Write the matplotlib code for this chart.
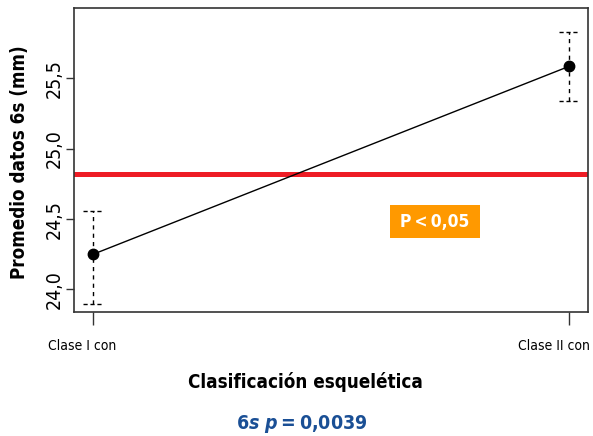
import matplotlib
matplotlib.use("Agg")
import matplotlib.pyplot as plt
import matplotlib.transforms as mtransforms
from matplotlib.patches import Rectangle

plt.rcParams['font.family'] = ['DejaVu Sans']
plt.rcParams['font.stretch'] = 'condensed'

# valores
grupos = ["Clase I con", "Clase II con"]
medias = [24.25, 25.585]
sup = [24.56, 25.83]
inf = [23.90, 25.34]
linea_ref = 24.82
yticks = [24.0, 24.5, 25.0, 25.5]
ytick_labels = ["24,0", "24,5", "25,0", "25,5"]

x = [1, 2]

fig = plt.figure(figsize=(5.93, 4.36), dpi=100)
ax = fig.add_axes([0.1248, 0.2844, 0.8668, 0.6973])

ax.axhline(linea_ref, color='#ee1c25', lw=3.6, zorder=1)
ax.plot(x, medias, color='black', lw=1, marker='o', ms=7.5, zorder=3)

cap = 0.021
ax.vlines(x, inf, sup, colors='black', linestyles=(0, (3, 3)), lw=1)
ax.hlines(sup, [i - cap for i in x], [i + cap for i in x], colors='black', linestyles=(0, (3, 2)), lw=1)
ax.hlines(inf, [i - cap for i in x], [i + cap for i in x], colors='black', linestyles=(0, (3, 2)), lw=1)

ax.set_xlim(0.96, 2.04)
ax.set_ylim(23.84, 26.0)
ax.set_xticks(x)
ax.set_xticklabels(grupos, fontsize=10)
ax.set_yticks(yticks)
ax.set_yticklabels(ytick_labels, fontsize=14, rotation=90, va='center')
ax.tick_params(axis='y', length=6, width=1, color='#333333', pad=1.5)
ax.tick_params(axis='x', length=9.5, width=1, color='#333333', pad=10)
for s in ax.spines.values():
    s.set_linewidth(1.2)
    s.set_color('#333333')

# desplazar etiquetas del eje x hacia la izquierda como en el original
for lbl, dx in zip(ax.get_xticklabels(), [-11, -15]):
    lbl.set_transform(lbl.get_transform() + mtransforms.ScaledTranslation(dx / 100, 0, fig.dpi_scale_trans))

fig.text(20 / 593, 1 - 162 / 436, "Promedio datos 6s (mm)", rotation=90,
         ha='center', va='center', fontsize=13.5, fontweight='bold')

# recuadro naranja P<0,05
fig.patches.append(Rectangle((390 / 593, 1 - 238 / 436), 90 / 593, 33 / 436,
                             transform=fig.transFigure, fc='#ff9900', ec='none', zorder=5))
fig.text(435 / 593, 1 - 221.5 / 436, "P\u2009<\u20090,05", color='white', fontsize=12.5,
         fontweight='bold', ha='center', va='center', zorder=6)

fig.text(305 / 593, 1 - 388 / 436, "Clasificación esquelética", ha='center', va='baseline',
         fontsize=13.5, fontweight='bold')
fig.text(302 / 593, 1 - 429 / 436, "6$\\mathbfit{s}$ $\\mathbfit{p}$\u2009=\u20090,0039",
         ha='center', va='baseline', fontsize=14, fontweight='bold', color='#1a4f95')

fig.savefig("out.png", dpi=100)
